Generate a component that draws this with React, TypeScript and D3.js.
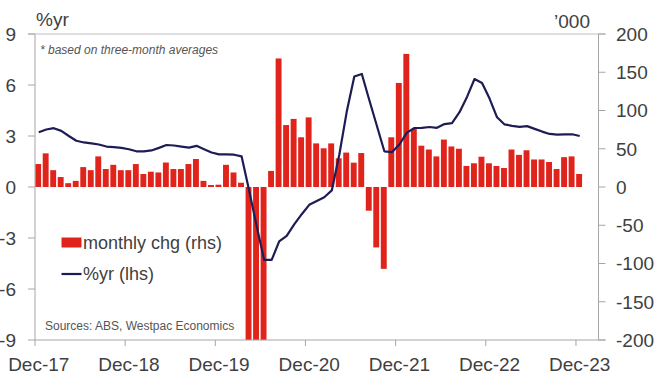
import React from "react";
import * as d3 from "d3";

// monthly employment change, '000, 3-month avg, Dec-17 .. Dec-23 (rhs)
const monthlyChg = [
  30, 44, 22, 13, 5, 8, 26, 22, 40, 23.5, 29, 22,
  22, 30, 17, 20, 19, 32, 23.5, 23.5, 30, 36.6, 8, 2.6,
  3, 29, 19, 5.6, -230, -260, -215, 21, 168, 81, 89, 65,
  91, 57, 50.6, 57, 37.5, 45, 31.8, 44.4, -31, -79, -107, 65,
  136, 174, 76, 54, 49, 40, 62, 53, 50, 27.5, 31, 39.6,
  31, 27.5, 24.8, 49, 42, 48, 36, 36, 32.7, 23.5, 39, 40,
  17,
];

// employment %yr (lhs)
const pctYr = [
  3.22, 3.38, 3.46, 3.3, 3.0, 2.72, 2.62, 2.57, 2.5, 2.38, 2.35, 2.3,
  2.22, 2.1, 2.1, 2.15, 2.3, 2.47, 2.44, 2.38, 2.32, 2.42, 2.22, 2.03,
  1.92, 1.92, 1.9, 1.8, -0.2, -2.3, -4.29, -4.29, -3.2, -2.88, -2.2, -1.6,
  -1.05, -0.82, -0.6, -0.2, 1.9, 4.45, 6.5, 6.65, 5.1, 3.6, 2.1, 2.05,
  2.5, 3.2, 3.47, 3.48, 3.53, 3.48, 3.7, 3.76, 4.4, 5.3, 6.35, 6.12,
  5.2, 4.1, 3.68, 3.6, 3.54, 3.58, 3.42, 3.26, 3.12, 3.08, 3.1, 3.1,
  3.0,
];

const xTickLabels = ["Dec-17", "Dec-18", "Dec-19", "Dec-20", "Dec-21", "Dec-22", "Dec-23"];
const leftTicks = [9, 6, 3, 0, -3, -6, -9];
const rightTicks = [200, 150, 100, 50, 0, -50, -100, -150, -200];

const FONT = "'Liberation Sans', Arial, sans-serif";
const RED = "#e0241c";
const NAVY = "#1e1c55";
const AXIS = "#a6a6a6";
const TEXT = "#404040";

export default function App() {
  const left = 35, right = 598.5, top = 34, bottom = 340;
  const x = d3.scaleLinear().domain([0, 75]).range([left, right]);
  const step = x(1) - x(0);
  const yL = d3.scaleLinear().domain([-9, 9]).range([bottom, top]);
  const yR = d3.scaleLinear().domain([-200, 200]).range([bottom, top]).clamp(true);

  const line = d3
    .line<number>()
    .x((_, i) => x(i) + step / 2)
    .y((d) => yL(d));

  return (
    <svg
      width={664}
      height={386}
      style={{ position: "absolute", left: 0, top: 0, background: "#fff" }}
      fontFamily={FONT}
    >
      {/* bars */}
      {monthlyChg.map((v, i) => (
        <rect
          key={i}
          x={x(i) + 0.2}
          width={step - 1.6}
          y={Math.min(yR(v), yR(0))}
          height={Math.abs(yR(v) - yR(0))}
          fill={RED}
        />
      ))}

      {/* frame */}
      <line x1={left - 7} x2={right + 7} y1={top} y2={top} stroke="#bfbfbf" strokeWidth={1} />
      <line x1={left} x2={left} y1={top} y2={bottom} stroke={AXIS} strokeWidth={1} />
      <line x1={right} x2={right} y1={top} y2={bottom} stroke={AXIS} strokeWidth={1} />
      <line x1={left} x2={right + 7} y1={bottom} y2={bottom} stroke={AXIS} strokeWidth={1} />

      {/* left axis */}
      {leftTicks.map((t) => (
        <g key={"l" + t}>
          <line x1={left - 7} x2={left} y1={yL(t)} y2={yL(t)} stroke={AXIS} />
          <text x={16} y={yL(t)} dy="0.36em" textAnchor="end" fontSize={19} fill={TEXT}>
            {t}
          </text>
        </g>
      ))}

      {/* right axis */}
      {rightTicks.map((t) => (
        <g key={"r" + t}>
          <line x1={right} x2={right + 7} y1={yR(t)} y2={yR(t)} stroke={AXIS} />
          <text x={616} y={yR(t)} dy="0.36em" textAnchor="start" fontSize={19} fill={TEXT}>
            {t}
          </text>
        </g>
      ))}

      {/* bottom axis */}
      {xTickLabels.map((lab, k) => (
        <g key={lab}>
          <line x1={x(k * 12)} x2={x(k * 12)} y1={bottom} y2={bottom + 6} stroke={AXIS} />
          <text x={x(k * 12) + step / 2} y={371} textAnchor="middle" fontSize={19} fill={TEXT}>
            {lab}
          </text>
        </g>
      ))}

      {/* %yr line */}
      <path d={line(pctYr) || ""} fill="none" stroke={NAVY} strokeWidth={2.2} strokeLinejoin="round" />

      {/* axis titles */}
      <text x={36} y={26} fontSize={19} fill={TEXT}>%yr</text>
      <text x={590} y={28} fontSize={19} fill={TEXT} textAnchor="end">’000</text>

      {/* note */}
      <text x={40} y={54} fontSize={12} fontStyle="italic" fill="#555">
        * based on three-month averages
      </text>

      {/* legend */}
      <rect x={61.5} y={237.5} width={20} height={10} fill={RED} />
      <text x={83} y={248.5} fontSize={18} fill={TEXT}>monthly chg (rhs)</text>
      <line x1={61.5} x2={81.5} y1={274} y2={274} stroke={NAVY} strokeWidth={2.2} />
      <text x={83} y={280} fontSize={18} fill={TEXT}>%yr (lhs)</text>

      <text x={45} y={330} fontSize={12} fill="#555">Sources: ABS, Westpac Economics</text>
    </svg>
  );
}
